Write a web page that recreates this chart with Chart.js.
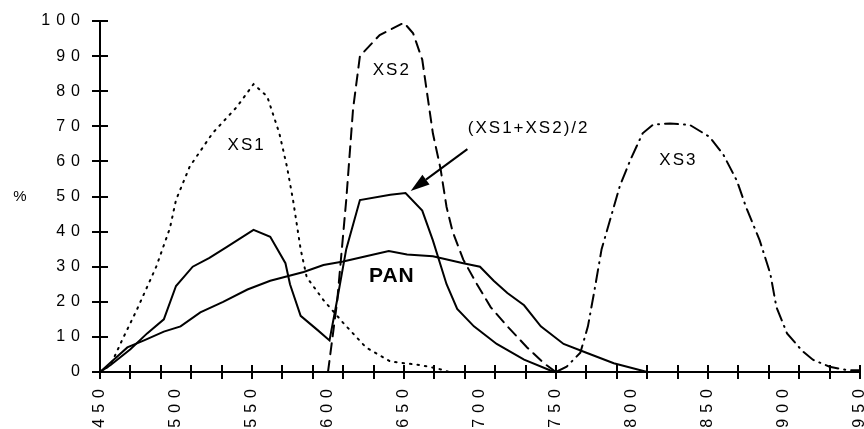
<!DOCTYPE html>
<html>
<head>
<meta charset="utf-8">
<script src="https://cdn.jsdelivr.net/npm/chart.js@4.4.1/dist/chart.umd.min.js"></script>
<style>
  html, body { margin: 0; padding: 0; background: #fff; }
  #chart { display: block; }
</style>
</head>
<body>
<canvas id="chart" width="864" height="429"></canvas>
<script>
// Spectral response curves, wavelength (nm) vs response (%)
const wlXS1  = [450, 457, 465, 474, 487, 496, 500, 509, 524, 540, 551, 560, 568, 573, 577, 582, 586, 597, 610, 625, 641, 660, 672, 680];
const pctXS1 = [0, 2, 9.5, 17.5, 30, 41, 49, 58.5, 68, 75.5, 82, 78.5, 68, 58.5, 49, 35, 27, 20.5, 14, 7, 3, 2, 1, 0];

const wlXS2  = [600, 606, 612, 616.5, 621, 634, 650, 656, 662, 669, 674, 678, 682, 689, 698, 707, 718, 731, 742, 750];
const pctXS2 = [0, 20, 49, 75, 90, 96, 99.5, 96.5, 89, 68, 58, 47, 40, 32, 25, 18.5, 13, 7, 2.5, 0];

const wlXS3  = [750, 757, 766, 771, 775, 780, 788, 792, 799, 807, 814, 825, 838, 851, 860, 869, 875, 884, 891, 895, 902, 912, 919, 930, 942, 950];
const pctXS3 = [0, 1.5, 5.5, 13, 22.5, 35, 47, 53, 60.5, 68, 70.5, 70.8, 70.4, 67, 62, 54.5, 47, 37.5, 28, 18.5, 11, 6, 3.5, 1.5, 0.5, 0.5];

const wlAvg  = [450, 457, 470, 481, 492, 500, 511, 522, 533, 551, 562, 572, 575, 582, 593, 601, 606, 612, 621, 641, 651, 662, 669, 678, 685, 696, 711, 729, 746, 750];
const pctAvg = [0, 2, 6.5, 11, 15, 24.5, 30, 32.5, 35.5, 40.5, 38.5, 31, 25, 16, 12, 9, 20.5, 35, 49, 50.5, 51, 46, 37.5, 25, 18, 13, 8, 3.5, 0.5, 0];

const wlPan  = [450, 468, 479, 492, 503, 516, 531, 547, 562, 584, 597, 610, 625, 640, 652, 669, 689, 700, 709, 718, 729, 740, 755, 770, 788, 810];
const pctPan = [0, 7, 9, 11.5, 13, 17, 20, 23.5, 26, 28.5, 30.5, 31.5, 33, 34.5, 33.5, 33, 31, 30, 26, 22.5, 19, 13, 8, 5.5, 2.5, 0];

const yTickValues = [0, 10, 20, 30, 40, 50, 60, 70, 80, 90, 100];
const xTickLabels = [450, 500, 550, 600, 650, 700, 750, 800, 850, 900, 950];
const xTickMarks  = [450, 470, 490, 510, 530, 550, 570, 590, 610, 630, 650, 670, 690, 710, 730, 750, 770, 790, 810, 830, 850, 870, 890, 910, 930, 950];

// curve names, placed in data coordinates
const curveLabels = [
  { text: 'XS1', x: 546.5, y: 64.7, bold: false },
  { text: 'XS2', x: 642, y: 86, bold: false },
  { text: 'XS3', x: 830.5, y: 60.4, bold: false },
  { text: '(XS1+XS2)/2', x: 732, y: 69.4, bold: false },
  { text: 'PAN', x: 642, y: 27.4, bold: true }
];
const arrowFrom = { x: 691.7, y: 63.5 };
const arrowTo   = { x: 654.4, y: 51.6 };

const FONT = '"Liberation Sans", Arial, Helvetica, sans-serif';
Chart.defaults.font.family = FONT;
Chart.defaults.color = '#000';

function toPoints(xs, ys) {
  return xs.map((x, i) => ({ x, y: ys[i] }));
}

// the tick numbers are printed with wide letter spacing
const tickSpacing = {
  id: 'tickSpacing',
  beforeLayout(chart) { chart.ctx.letterSpacing = '6px'; },
  beforeDraw(chart) { chart.ctx.letterSpacing = '6px'; }
};

// tick marks crossing both axes, plus the "%" axis title
const axisMarks = {
  id: 'axisMarks',
  afterDraw(chart) {
    const c = chart.ctx;
    const xs = chart.scales.x;
    const ys = chart.scales.y;
    const area = chart.chartArea;
    const x0 = area.left;
    const y0 = area.bottom;
    c.save();
    c.fillStyle = '#000';
    for (const v of yTickValues) {
      const py = Math.round(ys.getPixelForValue(v));
      c.fillRect(x0 - 8, py - 1, 16, 2);
    }
    for (const v of xTickMarks) {
      const px = Math.round(xs.getPixelForValue(v));
      c.fillRect(px - 1, y0 - 7, 2, 14);
    }

    c.letterSpacing = '0px';
    c.font = '15px ' + FONT;
    c.textAlign = 'center';
    c.textBaseline = 'middle';
    c.fillText('%', 20, ys.getPixelForValue(50));
    c.restore();
  }
};

// curve names and the arrow pointing at the averaged curve
const curveNotes = {
  id: 'curveNotes',
  afterDraw(chart) {
    const c = chart.ctx;
    const xs = chart.scales.x;
    const ys = chart.scales.y;
    c.save();
    c.fillStyle = '#000';
    c.textAlign = 'center';
    c.textBaseline = 'middle';
    curveLabels.forEach(l => {
      c.letterSpacing = l.bold ? '1px' : '2px';
      c.font = (l.bold ? 'bold 21px ' : '17px ') + FONT;
      c.fillText(l.text, xs.getPixelForValue(l.x), ys.getPixelForValue(l.y));
    });

    const ax = xs.getPixelForValue(arrowFrom.x), ay = ys.getPixelForValue(arrowFrom.y);
    const bx = xs.getPixelForValue(arrowTo.x), by = ys.getPixelForValue(arrowTo.y);
    const ang = Math.atan2(by - ay, bx - ax);
    const headLen = 19, headHalf = 6;
    const hx = bx - headLen * Math.cos(ang), hy = by - headLen * Math.sin(ang);
    c.strokeStyle = '#000';
    c.lineWidth = 2;
    c.setLineDash([]);
    c.beginPath();
    c.moveTo(ax, ay);
    c.lineTo(hx, hy);
    c.stroke();
    c.beginPath();
    c.moveTo(bx, by);
    c.lineTo(hx + headHalf * Math.sin(ang), hy - headHalf * Math.cos(ang));
    c.lineTo(hx - headHalf * Math.sin(ang), hy + headHalf * Math.cos(ang));
    c.closePath();
    c.fill();
    c.restore();
  }
};

function curve(label, xs, ys, dash) {
  return {
    label,
    data: toPoints(xs, ys),
    borderColor: '#000',
    borderWidth: 2,
    borderDash: dash,
    borderCapStyle: dash.length ? 'round' : 'butt',
    pointRadius: 0,
    tension: 0,
    fill: false
  };
}

const ctx = document.getElementById('chart').getContext('2d');
new Chart(ctx, {
  type: 'line',
  data: {
    datasets: [
      curve('XS1', wlXS1, pctXS1, [1.5, 6]),
      curve('XS2', wlXS2, pctXS2, [11, 7]),
      curve('XS3', wlXS3, pctXS3, [13, 6, 1, 6]),
      curve('(XS1+XS2)/2', wlAvg, pctAvg, []),
      curve('PAN', wlPan, pctPan, [])
    ]
  },
  options: {
    responsive: false,
    animation: false,
    layout: { padding: { left: 0, right: 4, top: 21, bottom: 0 } },
    plugins: {
      legend: { display: false },
      tooltip: { enabled: false }
    },
    scales: {
      x: {
        type: 'linear',
        min: 450,
        max: 950,
        afterBuildTicks(scale) {
          scale.ticks = xTickLabels.map(v => ({ value: v }));
        },
        afterFit(scale) {
          scale.height = 57;
          scale.paddingLeft = 0;
          scale.paddingRight = 0;
        },
        ticks: {
          minRotation: 90,
          maxRotation: 90,
          autoSkip: false,
          padding: 11,
          font: { size: 16 },
          color: '#000'
        },
        grid: { display: false, drawTicks: false },
        border: { display: true, color: '#000', width: 2 }
      },
      y: {
        min: 0,
        max: 100,
        afterBuildTicks(scale) {
          scale.ticks = yTickValues.map(v => ({ value: v }));
        },
        afterFit(scale) {
          scale.width = 100;
          scale.paddingTop = 0;
          scale.paddingBottom = 0;
        },
        ticks: {
          padding: 14,
          font: { size: 16 },
          color: '#000'
        },
        grid: { display: false, drawTicks: false },
        border: { display: true, color: '#000', width: 2 }
      }
    }
  },
  plugins: [tickSpacing, axisMarks, curveNotes]
});
</script>
</body>
</html>
